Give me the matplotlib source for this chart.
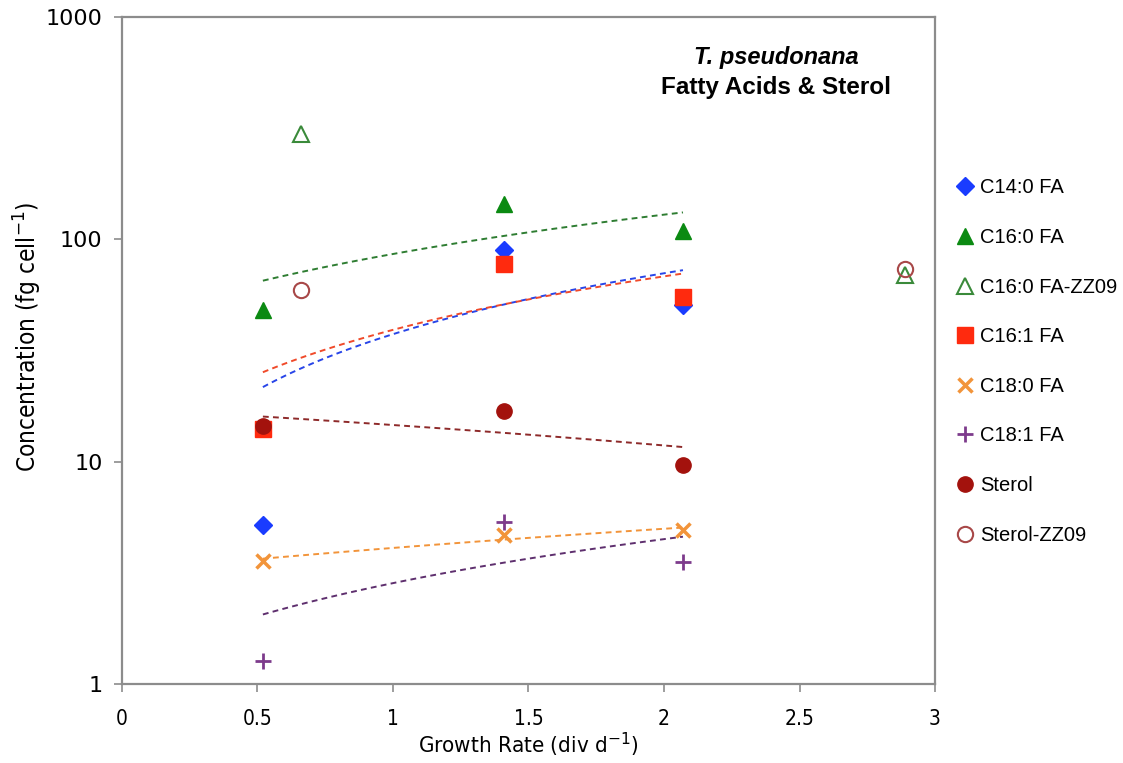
import numpy as np
import matplotlib
matplotlib.use("Agg")
import matplotlib.pyplot as plt

# ---- data ----
x_main = [0.52, 1.41, 2.07]
c14_0 = [5.2, 89.6, 50.5]
c16_0 = [48.0, 144.0, 109.0]
c16_1 = [14.0, 77.5, 55.0]
c18_0 = [3.57, 4.68, 4.93]
c18_1 = [1.27, 5.36, 3.54]
sterol = [14.5, 16.9, 9.67]
x_zz09 = [0.66, 2.89]
c16_0_zz09 = [298.0, 69.0]
sterol_zz09 = [59.2, 73.6]

x_ticks = [0, 0.5, 1, 1.5, 2, 2.5, 3]
x_ticklabels = ["0", "0.5", "1", "1.5", "2", "2.5", "3"]
y_ticks = [1, 10, 100, 1000]
y_ticklabels = ["1", "10", "100", "1000"]

col_blue = "#1a3cff"
col_green = "#0b8a12"
col_red = "#ff2a0e"
col_orange = "#f2943a"
col_purple = "#7d3b8c"
col_dred = "#a3120d"
col_sz = "#a84848"

fig = plt.figure(figsize=(11.23, 7.63), dpi=100)
ax = fig.add_axes([0.1086, 0.1035, 0.7240, 0.8742])
ax.set_yscale("log")
ax.set_xlim(0, 3)
ax.set_ylim(1, 1000)

def trend(y, color):
    xs = np.linspace(min(x_main), max(x_main), 60)
    p = np.polyfit(x_main, y, 1)
    ax.plot(xs, np.polyval(p, xs), linestyle=(0, (3, 2.2)), color=color, lw=1.4, zorder=2)

trend(c16_0, "#2e7d32")
trend(c14_0, "#2845e8")
trend(c16_1, "#f04a2a")
trend(sterol, "#8e2a2a")
trend(c18_0, "#f2943a")
trend(c18_1, "#5e2f6e")

ms = 11
ax.plot(x_main, c14_0, 'D', color=col_blue, ms=9, ls='none', label="C14:0 FA", zorder=3)
ax.plot(x_main, c16_0, '^', color=col_green, ms=ms, ls='none', label="C16:0 FA", zorder=3)
ax.plot(x_zz09, c16_0_zz09, '^', mfc='white', mec="#3a8a3a", mew=1.5, ms=ms, ls='none', label="C16:0 FA-ZZ09", zorder=3)
ax.plot(x_main, c16_1, 's', color=col_red, ms=ms, ls='none', label="C16:1 FA", zorder=3)
ax.plot(x_main, c18_0, 'x', color=col_orange, mew=2.5, ms=10, ls='none', label="C18:0 FA", zorder=3)
ax.plot(x_main, c18_1, '+', color=col_purple, mew=2, ms=12, ls='none', label="C18:1 FA", zorder=3)
ax.plot(x_main, sterol, 'o', color=col_dred, ms=ms, ls='none', label="Sterol", zorder=3)
ax.plot(x_zz09, sterol_zz09, 'o', mfc='none', mec=col_sz, mew=1.5, ms=ms, ls='none', label="Sterol-ZZ09", zorder=3)

for s in ax.spines.values():
    s.set_color("#8c8c8c")
    s.set_linewidth(1.6)

narrow = dict(family="DejaVu Sans", stretch="condensed")
ax.set_xticks(x_ticks)
ax.set_xticklabels(x_ticklabels, fontsize=15, **narrow)
ax.set_yticks(y_ticks)
ax.set_yticklabels(y_ticklabels, fontsize=16, family="DejaVu Sans")
ax.yaxis.set_minor_locator(matplotlib.ticker.NullLocator())
ax.tick_params(axis='both', direction='out', color="#8c8c8c", length=6, width=1.2)
ax.tick_params(axis='x', pad=12)
ax.tick_params(axis='y', pad=8)

ax.set_xlabel("Growth Rate (div d$^{-1}$)", fontsize=16, **narrow)
ax.set_ylabel("Concentration (fg cell$^{-1}$)", fontsize=17.5, **narrow)
ax.xaxis.set_label_coords(0.5, -0.0915)
ax.yaxis.set_label_coords(-0.1156, 0.52)
ax.xaxis.label.set_va('center')
ax.yaxis.label.set_va('center')

ax.text(0.805, 0.94, "T. pseudonana", transform=ax.transAxes, ha='center', va='center',
        fontsize=17, fontweight='bold', fontstyle='italic', family="Liberation Sans")
ax.text(0.805, 0.895, "Fatty Acids & Sterol", transform=ax.transAxes, ha='center', va='center',
        fontsize=17.5, fontweight='bold', family="Liberation Sans")

leg = fig.legend(loc='upper left', bbox_to_anchor=(0.832, 0.79), frameon=False,
                 labelspacing=1.52, handletextpad=0.15, handlelength=1.2,
                 prop={'family': 'Liberation Sans', 'size': 14.5})

fig.savefig("out.png", dpi=100)
